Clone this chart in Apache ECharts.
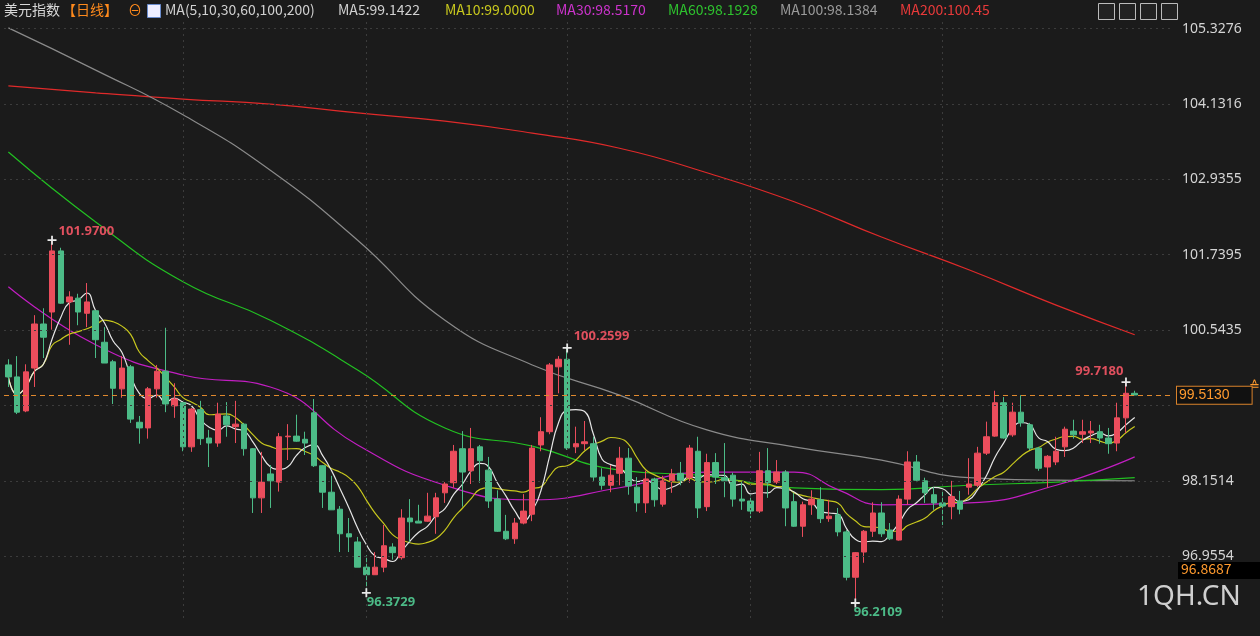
<!DOCTYPE html>
<html>
<head>
<meta charset="utf-8">
<script src="https://cdn.jsdelivr.net/npm/echarts@6/dist/echarts.min.js"></script>
<style>
  html, body { margin: 0; padding: 0; background: #1b1b1b; }
  #main { width: 1260px; height: 636px; }
</style>
</head>
<body>
<div id="main"></div>
<script>
// daily candles: [open, close, low, high]
const candles = [
  [99.99,99.80,99.64,100.08],[99.80,99.24,99.21,100.13],[99.26,99.88,99.24,100.00],[99.94,100.64,99.64,100.78],
  [100.64,100.43,100.10,100.89],[100.83,101.80,100.55,101.97],[101.80,100.97,100.96,101.85],[100.99,101.07,100.31,101.16],
  [101.05,100.83,100.62,101.12],[100.81,100.99,100.59,101.29],[100.85,100.39,100.10,100.86],[100.35,100.02,100.02,100.59],
  [100.04,99.62,99.37,100.07],[99.61,99.94,99.47,100.13],[99.96,99.13,99.07,99.99],[99.08,98.99,98.74,99.18],
  [98.99,99.61,98.82,99.64],[99.61,99.89,99.47,99.99],[99.89,99.37,99.24,100.58],[99.34,99.45,99.15,99.70],
  [99.39,98.69,98.62,99.40],[98.69,99.29,98.61,99.31],[99.28,98.82,98.72,99.42],[98.83,98.75,98.37,98.96],
  [98.75,99.21,98.69,99.39],[99.18,99.04,98.85,99.40],[99.01,99.05,98.75,99.42],[99.05,98.66,98.55,99.07],
  [98.66,97.88,97.64,98.67],[97.88,98.13,97.64,98.61],[98.26,98.15,97.72,98.40],[98.13,98.85,97.98,98.91],
  [98.85,98.86,98.48,99.05],[98.86,98.78,98.77,99.20],[98.81,98.75,98.56,98.93],[99.23,98.39,98.37,99.45],
  [98.39,97.97,97.72,98.40],[97.97,97.69,97.69,98.23],[97.70,97.31,97.02,97.75],[97.31,97.26,97.02,97.56],
  [97.18,96.78,96.78,97.26],[96.78,96.66,96.3729,96.97],[96.66,96.78,96.66,97.02],[96.78,97.12,96.70,97.45],
  [97.10,97.01,96.90,97.16],[96.93,97.56,96.90,97.70],[97.56,97.50,97.18,97.86],[97.51,97.48,97.48,97.77],
  [97.51,97.59,97.50,97.96],[97.58,97.88,97.31,97.96],[97.96,98.10,97.80,98.13],[98.12,98.62,98.04,98.72],
  [98.66,98.29,97.74,98.94],[98.31,98.66,98.10,98.99],[98.69,98.47,98.12,98.72],[98.32,97.83,97.72,98.53],
  [97.86,97.35,97.34,98.00],[97.35,97.23,97.21,97.61],[97.23,97.48,97.15,97.56],[97.48,97.67,97.46,97.94],
  [97.62,98.67,97.51,98.72],[98.72,98.93,98.62,99.16],[98.93,99.99,98.89,100.02],[99.96,100.08,99.54,100.13],
  [100.08,98.67,98.64,100.2599],[98.69,98.74,98.59,99.01],[98.74,98.77,98.64,99.10],[98.74,98.21,98.15,98.85],
  [98.21,98.08,98.01,98.35],[98.08,98.24,97.97,98.40],[98.27,98.51,98.08,98.69],[98.51,98.07,97.93,98.67],
  [98.05,97.80,97.66,98.21],[97.80,98.18,97.64,98.31],[98.18,97.85,97.74,98.20],[97.78,98.15,97.74,98.23],
  [98.15,98.26,97.96,98.34],[98.27,98.16,98.08,98.45],[98.20,98.67,98.12,98.72],[98.62,97.72,97.56,98.85],
  [97.74,98.44,97.67,98.58],[98.44,98.21,98.10,98.59],[98.20,98.15,97.89,98.75],[98.24,97.86,97.74,98.28],
  [97.86,97.83,97.69,98.13],[97.83,97.67,97.56,97.92],[97.67,98.31,97.64,98.61],[98.31,98.12,97.88,98.67],
  [98.13,98.29,98.10,98.48],[98.29,97.72,97.43,98.32],[97.82,97.43,97.42,97.96],[97.43,97.77,97.26,97.82],
  [97.77,97.86,97.61,98.00],[97.85,97.55,97.48,98.05],[97.55,97.59,97.50,97.85],[97.61,97.34,97.27,97.72],
  [97.34,96.62,96.57,97.37],[96.62,97.01,96.2109,97.02],[97.02,97.35,96.85,97.37],[97.35,97.64,97.26,97.81],
  [97.64,97.31,97.26,97.81],[97.37,97.23,97.21,97.48],[97.21,97.86,97.20,97.92],[97.86,98.45,97.77,98.62],
  [98.45,98.16,98.13,98.56],[98.15,97.96,97.80,98.20],[97.93,97.80,97.69,98.05],[97.80,97.75,97.45,98.00],
  [97.74,97.90,97.54,98.15],[97.83,97.70,97.62,97.99],[98.05,98.10,97.93,98.51],[98.08,98.59,98.05,98.69],
  [98.59,98.85,98.56,99.09],[98.86,99.39,98.85,99.58],[99.39,98.83,98.82,99.48],[98.88,99.24,98.85,99.39],
  [99.24,99.07,99.01,99.51],[99.04,98.67,98.64,99.07],[98.67,98.35,98.31,98.69],[98.37,98.54,98.04,98.56],
  [98.45,98.62,98.40,98.85],[98.69,98.97,98.53,99.01],[98.94,98.88,98.82,99.12],[98.89,98.93,98.75,99.12],
  [98.91,98.94,98.75,99.10],[98.93,98.83,98.74,99.04],[98.83,98.74,98.58,98.99],[98.75,99.15,98.62,99.39],
  [99.15,99.54,98.91,99.718],[99.54,99.513,99.51,99.58]
];

// longer averages at every 10th day (index: value)
const ma30Read = {0:101.23,10:100.31,20:99.83,30:99.64,40:98.72,50:98.08,60:97.85,70:98.04,80:98.29,90:98.29,95:98.01,100:97.77,110:97.80,120:98.08,129:98.53};
const ma60Read = {0:103.37,10:102.26,20:101.31,30:100.70,40:99.91,50:98.99,60:98.70,70:98.32,80:98.23,90:98.04,100:98.01,110:98.08,120:98.13,129:98.20};
const ma100Read = {0:105.34,10:104.67,20:103.96,30:103.08,40:101.97,50:100.70,60:99.99,70:99.51,80:98.96,90:98.69,100:98.48,110:98.20,120:98.16,129:98.15};
const ma200Read = {0:104.42,10:104.31,20:104.21,30:104.13,40:103.99,50:103.86,60:103.67,70:103.43,80:103.04,90:102.58,100:102.02,110:101.50,120:100.94,129:100.47};

const tickValues = [105.3276, 104.1316, 102.9355, 101.7395, 100.5435, 98.1514, 96.9554];
const gridValues = [105.3276, 104.1316, 102.9355, 101.7395, 100.5435, 99.3474, 98.1514, 96.9554];
const monthStarts = [20, 41, 64, 85, 107];
const lastPrice = 99.5130;

const slots = candles.length + 4;
const cats = Array.from({length: slots}, (_, i) => i);

function sma(n) {
  const closes = candles.map(c => c[1]);
  return closes.map((_, i) => {
    const from = Math.max(0, i - n + 1);
    const part = closes.slice(from, i + 1);
    return +(part.reduce((a, b) => a + b, 0) / part.length).toFixed(4);
  });
}
function fromRead(obj) {
  return cats.map(i => (obj[i] !== undefined ? obj[i] : null));
}

const RED = '#eb4d5c', GREEN = '#4cbb87';
const cross = 'path://M4,0h2v4h4v2h-4v4h-2v-4h-4v-2h4z';

function maLine(name, data, color) {
  return {
    name, type: 'line', data, symbol: 'none', smooth: true, connectNulls: true,
    lineStyle: { color, width: 1.2 }, z: 3, silent: true
  };
}

const chart = echarts.init(document.getElementById('main'));
const ff = '"Noto Sans CJK SC", "Noto Sans", sans-serif';
const head = [
  ['美元指数', 4, '#d8d8d8'], ['【日线】', 62, '#ff8a1c'], ['⊖', 128, '#ff8a1c'],
  ['MA(5,10,30,60,100,200)', 165, '#d0d0d0'], ['MA5:99.1422', 338, '#d0d0d0'],
  ['MA10:99.0000', 445, '#c8c81e'], ['MA30:98.5170', 556, '#cc33cc'],
  ['MA60:98.1928', 668, '#2ec22e'], ['MA100:98.1384', 780, '#9a9a9a'], ['MA200:100.45', 900, '#e83a3a']
];
const graphics = head.map(h => ({
  type: 'text', left: h[1], top: 3,
  style: { text: h[0], fill: h[2], font: '14px ' + ff }
}));
graphics.push({ type: 'rect', left: 147, top: 4, shape: { width: 13, height: 13 },
  style: { fill: '#eef', stroke: '#6a8ccc' } });
[1098, 1119, 1140, 1161].forEach(x => graphics.push({
  type: 'rect', left: x, top: 3, shape: { width: 16, height: 16 },
  style: { fill: '#222', stroke: '#bbb', lineWidth: 1 }
}));
graphics.push({ type: 'group', left: 1178, top: 562, children: [
  { type: 'rect', shape: { width: 82, height: 17 }, style: { fill: '#000' } },
  { type: 'text', left: 3, top: 0, style: { text: '96.8687', fill: '#ff9a2e', font: '14px ' + ff } }
]});
graphics.push({ type: 'text', left: 1137, top: 583,
  style: { text: '1QH.CN', fill: '#cfcfcf', font: '28px "Noto Sans", sans-serif' } });
graphics.push({ type: 'text', left: 1249, top: 380,
  style: { text: '≙', fill: '#ff9a2e', font: '13px sans-serif' } });

chart.setOption({
  backgroundColor: '#1b1b1b',
  animation: false,
  graphic: graphics,
  grid: { left: 4, top: 18, width: 1170, height: 600 },
  xAxis: {
    type: 'category', data: cats, boundaryGap: true,
    axisLine: { show: false }, axisTick: { show: false }, axisLabel: { show: false },
    splitLine: { show: false }
  },
  yAxis: {
    type: 'value', position: 'right', min: 95.973, max: 105.497, scale: true,
    axisLine: { show: false }, axisTick: { show: false }, splitLine: { show: false },
    axisLabel: {
      customValues: tickValues, color: '#d4d4d4', fontSize: 14, margin: 8,
      fontFamily: '"Noto Sans", sans-serif', formatter: v => v.toFixed(4)
    }
  },
  series: [
    {
      type: 'candlestick', data: candles, barWidth: 6, z: 4,
      itemStyle: { color: RED, color0: GREEN, borderColor: RED, borderColor0: GREEN, borderWidth: 1 },
      markLine: {
        silent: true, symbol: 'none', animation: false,
        lineStyle: { color: '#3c3c3c', type: [2, 4], width: 1 }, label: { show: false },
        data: [
          ...gridValues.map(v => ({ yAxis: v })),
          ...monthStarts.map(i => ({ xAxis: i }))
        ]
      },
      markPoint: {
        symbol: cross, symbolSize: 9, itemStyle: { color: '#e8e8e8' }, animation: false,
        label: { show: true, fontSize: 13, fontWeight: 'bold', fontFamily: '"Noto Sans", sans-serif' },
        data: [
          { coord: [5, 101.97], label: { formatter: '101.9700', color: '#e0505e', position: 'right', distance: 2, offset: [0, -9] } },
          { coord: [64, 100.2599], label: { formatter: '100.2599', color: '#e0505e', position: 'right', distance: 2, offset: [0, -12] } },
          { coord: [128, 99.718], label: { formatter: '99.7180', color: '#e0505e', position: 'left', distance: 2, offset: [4, -11] } },
          { coord: [41, 96.3729], label: { formatter: '96.3729', color: '#4cbb87', position: 'right', distance: 2, offset: [-6, 9] } },
          { coord: [97, 96.2109], label: { formatter: '96.2109', color: '#4cbb87', position: 'right', distance: 2, offset: [-8, 9] } }
        ]
      }
    },
    {
      name: 'last', type: 'line', data: [], silent: true,
      markLine: {
        silent: true, symbol: 'none', animation: false,
        lineStyle: { color: '#e0892e', type: [5, 4], width: 1.2 },
        label: { show: true, position: 'end', distance: 3, formatter: lastPrice.toFixed(4),
          color: '#ff9a2e', fontSize: 14, backgroundColor: '#111', borderColor: '#d9822b',
          borderWidth: 1, padding: [2, 22, 1, 2] },
        data: [{ yAxis: lastPrice }]
      }
    },
    maLine('MA200', fromRead(ma200Read), '#e02a2a'),
    maLine('MA100', fromRead(ma100Read), '#8a8a8a'),
    maLine('MA60', fromRead(ma60Read), '#22c022'),
    maLine('MA30', fromRead(ma30Read), '#c21ec2'),
    maLine('MA10', sma(10), '#c8c81e'),
    maLine('MA5', sma(5), '#e6e6e6')
  ]
});
</script>
</body>
</html>
